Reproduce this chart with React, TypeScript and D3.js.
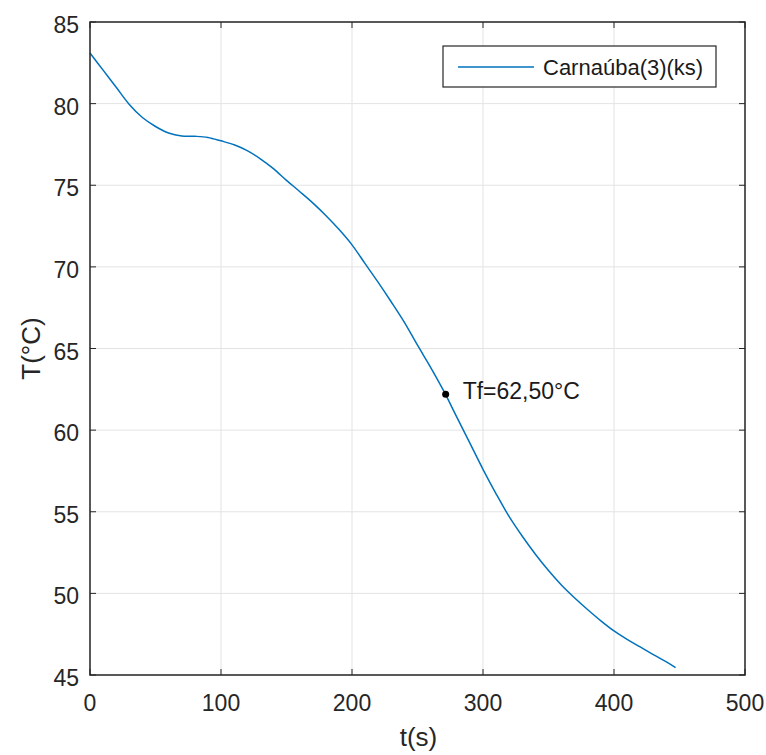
import React from "react";
import * as d3 from "d3";

const timeS = [0, 10, 20, 30, 40, 50, 60, 70, 80, 90, 100, 110, 120, 130, 140, 150, 160, 170, 180, 190, 200, 210, 220, 230, 240, 250, 260, 270, 280, 290, 300, 310, 320, 330, 340, 350, 360, 370, 380, 390, 400, 410, 420, 430, 440, 447];
const tempC = [83.1, 82.05, 81.0, 79.95, 79.15, 78.6, 78.2, 78.02, 78.0, 77.93, 77.72, 77.48, 77.12, 76.62, 76.02, 75.3, 74.62, 73.92, 73.15, 72.3, 71.35, 70.2, 69.05, 67.85, 66.6, 65.2, 63.85, 62.4, 60.8, 59.2, 57.6, 56.1, 54.7, 53.5, 52.4, 51.4, 50.5, 49.72, 49.0, 48.32, 47.7, 47.18, 46.72, 46.25, 45.8, 45.45];
const xTicks = [0, 100, 200, 300, 400, 500];
const yTicks = [45, 50, 55, 60, 65, 70, 75, 80, 85];
const markerPoint = { t: 271.5, T: 62.2, label: "Tf=62,50°C" };
const seriesName = "Carnaúba(3)(ks)";

const W = 766, H = 755;
const L = 90, R = 745, T = 22, B = 675;
const FONT = "'Liberation Sans', Arial, Helvetica, sans-serif";
const AX = "#262626";

export default function App() {
  const x = d3.scaleLinear().domain([0, 500]).range([L, R]);
  const y = d3.scaleLinear().domain([45, 85]).range([B, T]);
  const data = timeS.map((t, i) => [t, tempC[i]] as [number, number]);
  const line = d3.line<[number, number]>().x(d => x(d[0])).y(d => y(d[1])).curve(d3.curveCatmullRom.alpha(0.5));
  const tk = 6;
  return (
    <svg width={W} height={H} style={{ position: "absolute", left: 0, top: 0, background: "#fff" }} fontFamily={FONT}>
      <rect x={0} y={0} width={W} height={H} fill="#fff" />
      {xTicks.map(v => (
        <line key={"gx" + v} x1={x(v)} x2={x(v)} y1={T} y2={B} stroke="#e3e3e3" strokeWidth={1} />
      ))}
      {yTicks.map(v => (
        <line key={"gy" + v} x1={L} x2={R} y1={y(v)} y2={y(v)} stroke="#e3e3e3" strokeWidth={1} />
      ))}
      <path d={line(data) || ""} fill="none" stroke="#0072BD" strokeWidth={1.5} />
      <circle cx={x(markerPoint.t)} cy={y(markerPoint.T)} r={3.5} fill="#000" />
      <text x={x(markerPoint.t) + 17} y={y(markerPoint.T) + 4.5} fontSize={23} fill="#1a1a1a">{markerPoint.label}</text>
      {xTicks.map(v => (
        <g key={"tx" + v}>
          <line x1={x(v)} x2={x(v)} y1={B} y2={B - tk} stroke={AX} />
          <line x1={x(v)} x2={x(v)} y1={T} y2={T + tk} stroke={AX} />
          <text x={x(v)} y={B + 36} fontSize={23} textAnchor="middle" fill={AX}>{v}</text>
        </g>
      ))}
      {yTicks.map(v => (
        <g key={"ty" + v}>
          <line x1={L} x2={L + tk} y1={y(v)} y2={y(v)} stroke={AX} />
          <line x1={R} x2={R - tk} y1={y(v)} y2={y(v)} stroke={AX} />
          <text x={L - 11} y={y(v) + 11} fontSize={23} textAnchor="end" fill={AX}>{v}</text>
        </g>
      ))}
      <rect x={L} y={T} width={R - L} height={B - T} fill="none" stroke={AX} strokeWidth={1.5} />
      <text x={(L + R) / 2 + 1} y={746} fontSize={26} textAnchor="middle" fill={AX}>t(s)</text>
      <text transform={`translate(40,${(T + B) / 2}) rotate(-90)`} fontSize={26} textAnchor="middle" fill={AX}>T(°C)</text>
      <rect x={443} y={46} width={273} height={41} fill="#fff" stroke={AX} strokeWidth={1.2} />
      <line x1={458} x2={534} y1={67} y2={67} stroke="#0072BD" strokeWidth={1.5} />
      <text x={543} y={75} fontSize={22} fill="#1a1a1a">{seriesName}</text>
    </svg>
  );
}
